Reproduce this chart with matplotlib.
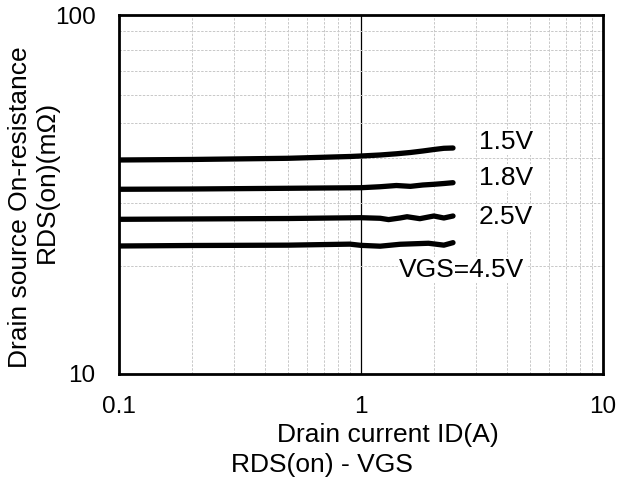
import matplotlib
matplotlib.use("Agg")
import matplotlib.pyplot as plt
from matplotlib.ticker import FixedLocator, NullFormatter

plt.rcParams['font.family'] = ['Liberation Sans', 'DejaVu Sans']

# Data
x_15 = [0.1, 0.2, 0.5, 0.9, 1.0, 1.2, 1.4, 1.6, 1.8, 2.0, 2.2, 2.4]
y_15 = [39.46, 39.59, 39.89, 40.35, 40.48, 40.74, 41.06, 41.40, 41.80, 42.20, 42.53, 42.61]

x_18 = [0.1, 0.2, 0.5, 0.9, 1.0, 1.2, 1.4, 1.6, 1.8, 2.0, 2.2, 2.4]
y_18 = [32.70, 32.76, 32.91, 33.01, 33.03, 33.24, 33.50, 33.32, 33.61, 33.76, 33.93, 34.11]

x_25 = [0.1, 0.2, 0.5, 0.9, 1.0, 1.2, 1.3, 1.45, 1.55, 1.75, 2.0, 2.2, 2.4]
y_25 = [26.97, 27.03, 27.11, 27.23, 27.25, 27.15, 26.92, 27.20, 27.42, 27.08, 27.55, 27.20, 27.55]

x_45 = [0.1, 0.2, 0.5, 0.9, 1.0, 1.2, 1.45, 1.9, 2.2, 2.4]
y_45 = [22.73, 22.80, 22.85, 23.00, 22.82, 22.70, 22.98, 23.13, 22.85, 23.22]

series_labels = ["1.5V", "1.8V", "2.5V", "VGS=4.5V"]

x_ticks = [0.1, 1, 10]
x_tick_labels = ["0.1", "1", "10"]
y_ticks = [10, 100]
y_tick_labels = ["10", "100"]

fig = plt.figure(figsize=(6.3, 4.92), dpi=100)
ax = fig.add_axes([119/630, 1 - 374/492, 484/630, 359/492])
ax.set_xscale('log')
ax.set_yscale('log')
ax.set_xlim(0.1, 10)
ax.set_ylim(10, 100)

# grid
minor_x = [m * d for d in (0.1, 1) for m in range(2, 10)]
minor_y = [m * 10 for m in range(2, 10)]
ax.xaxis.set_minor_locator(FixedLocator(minor_x))
ax.yaxis.set_minor_locator(FixedLocator(minor_y))
ax.xaxis.set_minor_formatter(NullFormatter())
ax.yaxis.set_minor_formatter(NullFormatter())
ax.grid(True, which='minor', color='#c8c8c8', linestyle=(0, (2.5, 1.5)), linewidth=0.7)
ax.axvline(1, color='black', linewidth=0.9, zorder=1)

ax.set_xticks(x_ticks)
ax.set_xticklabels(x_tick_labels)
ax.set_yticks(y_ticks)
ax.set_yticklabels(y_tick_labels)
ax.tick_params(which='both', length=0, labelsize=17.5)
ax.tick_params(axis='x', pad=16)
ax.tick_params(axis='y', pad=17)

for s in ax.spines.values():
    s.set_linewidth(2)
    s.set_color('black')

for xs, ys in [(x_15, y_15), (x_18, y_18), (x_25, y_25), (x_45, y_45)]:
    ax.plot(xs, ys, color='black', linewidth=3.8, solid_capstyle='round',
            solid_joinstyle='round', zorder=3)

bb = dict(facecolor='white', edgecolor='none', pad=1)
fs = 19
ax.text(3.07, 44.3, series_labels[0], fontsize=fs, va='center', ha='left', bbox=bb, zorder=4)
ax.text(3.07, 35.2, series_labels[1], fontsize=fs, va='center', ha='left', bbox=bb, zorder=4)
ax.text(3.07, 27.4, series_labels[2], fontsize=fs, va='center', ha='left', bbox=bb, zorder=4)
ax.text(1.436, 19.5, series_labels[3], fontsize=fs, va='center', ha='left', bbox=bb, zorder=4)

fig.text(388/630, 1 - 435/492, "Drain current ID(A)", fontsize=fs, ha='center', va='center')
fig.text(322/630, 1 - 465/492, "RDS(on) - VGS", fontsize=fs, ha='center', va='center')
fig.text(20/630, 1 - 207/492, "Drain source On-resistance", fontsize=fs, ha='center', va='center', rotation=90)
fig.text(47/630, 1 - 182/492, "RDS(on)(mΩ)", fontsize=fs, ha='center', va='center', rotation=90)

fig.savefig("out.png", dpi=100)
